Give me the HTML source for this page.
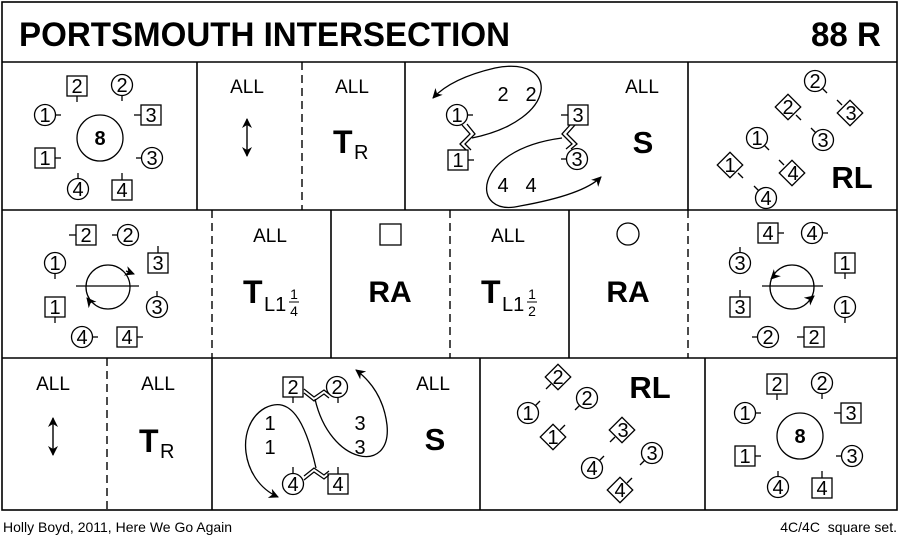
<!DOCTYPE html>
<html><head><meta charset="utf-8"><style>
html,body{margin:0;padding:0;background:#fff}
svg{display:block}
text{font-family:"Liberation Sans",Arial,sans-serif;fill:#000}
</style></head><body>
<svg width="900" height="542" viewBox="0 0 900 542" xmlns="http://www.w3.org/2000/svg">
<defs>
<marker id="ah" viewBox="0 0 10 10" refX="9" refY="5" markerWidth="10" markerHeight="10" orient="auto-start-reverse" markerUnits="userSpaceOnUse"><path d="M0,0 L10,5 L0,10 L3,5 Z" fill="#000"/></marker>
</defs>
<g fill="none" stroke="#000" stroke-width="1.6">
<rect x="2" y="2" width="895" height="508"/>
<line x1="2" y1="62" x2="897" y2="62"/>
<line x1="2" y1="210" x2="897" y2="210"/>
<line x1="2" y1="358" x2="897" y2="358"/>
<line x1="197" y1="62" x2="197" y2="210"/>
<line x1="405" y1="62" x2="405" y2="210"/>
<line x1="688" y1="62" x2="688" y2="210"/>
<line x1="331" y1="210" x2="331" y2="358"/>
<line x1="569" y1="210" x2="569" y2="358"/>
<line x1="212" y1="358" x2="212" y2="510"/>
<line x1="480" y1="358" x2="480" y2="510"/>
<line x1="705" y1="358" x2="705" y2="510"/>
</g>
<g fill="none" stroke="#000" stroke-width="1.4" stroke-dasharray="8,5">
<line x1="302" y1="62" x2="302" y2="210"/>
<line x1="212" y1="210" x2="212" y2="358"/>
<line x1="450" y1="210" x2="450" y2="358"/>
<line x1="688" y1="210" x2="688" y2="358"/>
<line x1="107" y1="358" x2="107" y2="510"/>
</g>
<text x="19" y="46" font-size="34" font-weight="bold" textLength="491" lengthAdjust="spacingAndGlyphs">PORTSMOUTH INTERSECTION</text>
<text x="881" y="46" font-size="34" font-weight="bold" text-anchor="end" textLength="70" lengthAdjust="spacingAndGlyphs">88 R</text>

<g fill="none" stroke="#000" stroke-width="1.3">
<circle cx="100" cy="138" r="23"/>
<rect x="67" y="76" width="20" height="20"/><line x1="77" y1="96" x2="77" y2="102"/>
<circle cx="122" cy="85" r="10.5"/><line x1="122" y1="96" x2="122" y2="101"/>
<circle cx="45" cy="115" r="10.5"/><line x1="56" y1="115" x2="61" y2="115"/>
<rect x="141" y="105" width="20" height="20"/><line x1="134" y1="115" x2="141" y2="115"/>
<rect x="35" y="148" width="20" height="20"/><line x1="55" y1="158" x2="61" y2="158"/>
<circle cx="152" cy="158" r="10.5"/><line x1="136" y1="158" x2="141" y2="158"/>
<circle cx="78" cy="189" r="10.5"/><line x1="78" y1="173" x2="78" y2="178"/>
<rect x="112" y="180" width="20" height="20"/><line x1="122" y1="173" x2="122" y2="180"/>
</g>
<g font-size="20" text-anchor="middle">
<text x="100" y="145" font-weight="bold">8</text>
<text x="77" y="93">2</text><text x="122" y="92">2</text><text x="45" y="122">1</text><text x="151" y="122">3</text>
<text x="45" y="165">1</text><text x="152" y="165">3</text><text x="78" y="196">4</text><text x="122" y="197">4</text>
</g>
<g transform="translate(700,298)">
<g fill="none" stroke="#000" stroke-width="1.3">
<circle cx="100" cy="138" r="23"/>
<rect x="67" y="76" width="20" height="20"/><line x1="77" y1="96" x2="77" y2="102"/>
<circle cx="122" cy="85" r="10.5"/><line x1="122" y1="96" x2="122" y2="101"/>
<circle cx="45" cy="115" r="10.5"/><line x1="56" y1="115" x2="61" y2="115"/>
<rect x="141" y="105" width="20" height="20"/><line x1="134" y1="115" x2="141" y2="115"/>
<rect x="35" y="148" width="20" height="20"/><line x1="55" y1="158" x2="61" y2="158"/>
<circle cx="152" cy="158" r="10.5"/><line x1="136" y1="158" x2="141" y2="158"/>
<circle cx="78" cy="189" r="10.5"/><line x1="78" y1="173" x2="78" y2="178"/>
<rect x="112" y="180" width="20" height="20"/><line x1="122" y1="173" x2="122" y2="180"/>
</g>
<g font-size="20" text-anchor="middle">
<text x="100" y="145" font-weight="bold">8</text>
<text x="77" y="93">2</text><text x="122" y="92">2</text><text x="45" y="122">1</text><text x="151" y="122">3</text>
<text x="45" y="165">1</text><text x="152" y="165">3</text><text x="78" y="196">4</text><text x="122" y="197">4</text>
</g>
</g>

<g font-size="19" text-anchor="middle">
<text x="247" y="93">ALL</text><text x="352" y="93">ALL</text>
<text x="53" y="390">ALL</text><text x="158" y="390">ALL</text>
<text x="642" y="93">ALL</text>
<text x="270" y="242">ALL</text><text x="508" y="242">ALL</text>
<text x="433" y="390">ALL</text>
</g>
<g stroke="#000" stroke-width="1.4" fill="none">
<line x1="247" y1="119" x2="247" y2="156" marker-start="url(#ah)" marker-end="url(#ah)"/>
<line x1="53" y1="418" x2="53" y2="455" marker-start="url(#ah)" marker-end="url(#ah)"/>
</g>
<text x="333" y="153" font-size="32" font-weight="bold">T</text><text x="354" y="159" font-size="20">R</text>
<text x="139" y="452" font-size="32" font-weight="bold">T</text><text x="160" y="458" font-size="20">R</text>
<text x="643" y="153" font-size="31" font-weight="bold" text-anchor="middle">S</text>
<text x="435" y="450" font-size="31" font-weight="bold" text-anchor="middle">S</text>

<text x="243" y="303" font-size="32" font-weight="bold">T</text><text x="264" y="311" font-size="20">L1</text>
<text x="294" y="299" font-size="14" text-anchor="middle">1</text><line x1="289" y1="302" x2="299" y2="302" stroke="#000"/><text x="294" y="316" font-size="14" text-anchor="middle">4</text>
<text x="481" y="303" font-size="32" font-weight="bold">T</text><text x="502" y="311" font-size="20">L1</text>
<text x="532" y="299" font-size="14" text-anchor="middle">1</text><line x1="527" y1="302" x2="537" y2="302" stroke="#000"/><text x="532" y="316" font-size="14" text-anchor="middle">2</text>
<rect x="380" y="224" width="21" height="21" fill="none" stroke="#000" stroke-width="1.3"/>
<circle cx="628" cy="234" r="11" fill="none" stroke="#000" stroke-width="1.3"/>
<text x="390" y="302" font-size="30" font-weight="bold" text-anchor="middle">RA</text>
<text x="628" y="302" font-size="30" font-weight="bold" text-anchor="middle">RA</text>
<text x="852" y="188" font-size="31" font-weight="bold" text-anchor="middle">RL</text>
<text x="650" y="398" font-size="31" font-weight="bold" text-anchor="middle">RL</text>

<g fill="none" stroke="#000" stroke-width="1.3">
<circle cx="457" cy="115" r="10.5"/><line x1="468" y1="115" x2="473" y2="115"/>
<rect x="448" y="150" width="20" height="20"/><line x1="468" y1="160" x2="474" y2="160"/>
<rect x="568" y="105" width="20" height="20"/><line x1="561" y1="115" x2="568" y2="115"/>
<circle cx="577" cy="159" r="10.5"/><line x1="561" y1="159" x2="566" y2="159"/>
<polyline points="462,125 470,134 460,144 466,150"/><polyline points="467,124 475,134 465,144 471,150"/>
<polyline points="570,125 562,134 572,144 566,149"/><polyline points="575,125 567,134 577,144 571,149"/>
<path d="M472 138 C 560 120, 560 55, 495 68 C 465 75, 445 85, 433 98" marker-end="url(#ah)"/>
<path d="M562 138 C 470 150, 470 218, 520 206 C 565 198, 590 188, 601 177" marker-end="url(#ah)"/>
</g>
<g font-size="20" text-anchor="middle">
<text x="457" y="122">1</text><text x="458" y="167">1</text><text x="578" y="122">3</text><text x="577" y="166">3</text>
<text x="503" y="101">2</text><text x="531" y="101">2</text><text x="503" y="192">4</text><text x="531" y="192">4</text>
</g>

<g fill="none" stroke="#000" stroke-width="1.3">
<circle cx="815" cy="81" r="10.5"/><line x1="822" y1="88" x2="827" y2="93"/>
<rect x="779" y="98" width="18" height="18" transform="rotate(45 788 107)"/><line x1="796" y1="115" x2="801" y2="120"/>
<rect x="841" y="104" width="18" height="18" transform="rotate(45 850 113)"/><line x1="842" y1="105" x2="837" y2="100"/>
<circle cx="757" cy="138" r="10.5"/><line x1="764" y1="145" x2="769" y2="150"/>
<circle cx="823" cy="140" r="10.5"/><line x1="816" y1="133" x2="811" y2="128"/>
<rect x="721" y="156" width="18" height="18" transform="rotate(45 730 165)"/><line x1="738" y1="173" x2="743" y2="178"/>
<rect x="783" y="164" width="18" height="18" transform="rotate(45 792 173)"/><line x1="784" y1="165" x2="779" y2="160"/>
<circle cx="766" cy="198" r="10.5"/><line x1="759" y1="191" x2="754" y2="186"/>
</g>
<g font-size="20" text-anchor="middle">
<text x="815" y="88">2</text><text x="788" y="114">2</text><text x="851" y="120">3</text><text x="757" y="145">1</text>
<text x="823" y="147">3</text><text x="730" y="172">1</text><text x="793" y="180">4</text><text x="766" y="205">4</text>
</g>

<g fill="none" stroke="#000" stroke-width="1.3">
<rect x="76" y="225" width="20" height="20"/><line x1="69" y1="235" x2="76" y2="235"/>
<circle cx="128" cy="235" r="10.5"/><line x1="112" y1="235" x2="117" y2="235"/>
<circle cx="55" cy="263" r="10.5"/><line x1="55" y1="274" x2="55" y2="279"/>
<rect x="148" y="253" width="20" height="20"/><line x1="158" y1="246" x2="158" y2="253"/>
<rect x="45" y="297" width="20" height="20"/><line x1="55" y1="317" x2="55" y2="323"/>
<circle cx="157" cy="307" r="10.5"/><line x1="157" y1="291" x2="157" y2="296"/>
<circle cx="82" cy="337" r="10.5"/><line x1="93" y1="337" x2="98" y2="337"/>
<rect x="117" y="327" width="20" height="20"/><line x1="137" y1="337" x2="143" y2="337"/>
<circle cx="108" cy="287" r="22"/><line x1="76" y1="286" x2="139" y2="286"/>
<path d="M126 271 L134 274" marker-end="url(#ah)"/><path d="M91 303 L87 298" marker-end="url(#ah)"/>
</g>
<g font-size="20" text-anchor="middle">
<text x="86" y="242">2</text><text x="128" y="242">2</text><text x="55" y="270">1</text><text x="158" y="270">3</text>
<text x="55" y="314">1</text><text x="157" y="314">3</text><text x="82" y="344">4</text><text x="127" y="344">4</text>
</g>

<g fill="none" stroke="#000" stroke-width="1.3">
<rect x="758" y="223" width="20" height="20"/><line x1="778" y1="233" x2="784" y2="233"/>
<circle cx="812" cy="233" r="10.5"/><line x1="823" y1="233" x2="828" y2="233"/>
<circle cx="740" cy="263" r="10.5"/><line x1="740" y1="247" x2="740" y2="252"/>
<rect x="835" y="253" width="20" height="20"/><line x1="845" y1="273" x2="845" y2="279"/>
<rect x="730" y="297" width="20" height="20"/><line x1="740" y1="290" x2="740" y2="297"/>
<circle cx="845" cy="307" r="10.5"/><line x1="845" y1="318" x2="845" y2="323"/>
<circle cx="768" cy="337" r="10.5"/><line x1="752" y1="337" x2="757" y2="337"/>
<rect x="804" y="327" width="20" height="20"/><line x1="797" y1="337" x2="804" y2="337"/>
<circle cx="792" cy="287" r="22"/><line x1="762" y1="286" x2="823" y2="286"/>
<path d="M775 275 L771 279" marker-end="url(#ah)"/><path d="M809 300 L814 296" marker-end="url(#ah)"/>
</g>
<g font-size="20" text-anchor="middle">
<text x="768" y="240">4</text><text x="812" y="240">4</text><text x="740" y="270">3</text><text x="845" y="270">1</text>
<text x="740" y="314">3</text><text x="845" y="314">1</text><text x="768" y="344">2</text><text x="814" y="344">2</text>
</g>

<g fill="none" stroke="#000" stroke-width="1.3">
<rect x="283" y="377" width="20" height="20"/><line x1="293" y1="397" x2="293" y2="403"/>
<circle cx="337" cy="387" r="10.5"/><line x1="338" y1="398" x2="338" y2="403"/>
<circle cx="293" cy="484" r="10.5"/><line x1="293" y1="467" x2="293" y2="473"/>
<rect x="328" y="474" width="20" height="20"/><line x1="338" y1="467" x2="338" y2="474"/>
<polyline points="304,389 314,397 324,390 329,394"/><polyline points="304,393 314,401 324,394 329,398"/>
<polyline points="304,480 314,472 324,479 329,475"/><polyline points="304,476 314,468 324,475 329,471"/>
<path d="M315 399 C 330 465, 392 475, 387 425 C 384 400, 372 382, 356 370" marker-end="url(#ah)"/>
<path d="M316 468 C 305 420, 290 395, 265 408 C 235 425, 240 480, 278 497" marker-end="url(#ah)"/>
</g>
<g font-size="20" text-anchor="middle">
<text x="293" y="394">2</text><text x="337" y="394">2</text><text x="293" y="491">4</text><text x="338" y="491">4</text>
<text x="270" y="430">1</text><text x="270" y="454">1</text><text x="360" y="430">3</text><text x="360" y="454">3</text>
</g>

<g fill="none" stroke="#000" stroke-width="1.3">
<rect x="549" y="368" width="18" height="18" transform="rotate(45 558 377)"/><line x1="551" y1="384" x2="546" y2="389"/>
<circle cx="528" cy="413" r="10.5"/><line x1="535" y1="406" x2="540" y2="401"/>
<circle cx="587" cy="398" r="10.5"/><line x1="580" y1="405" x2="575" y2="410"/>
<rect x="544" y="428" width="18" height="18" transform="rotate(45 553 437)"/><line x1="560" y1="430" x2="565" y2="425"/>
<rect x="613" y="421" width="18" height="18" transform="rotate(45 622 430)"/><line x1="615" y1="437" x2="610" y2="442"/>
<circle cx="592" cy="468" r="10.5"/><line x1="599" y1="461" x2="604" y2="456"/>
<circle cx="652" cy="453" r="10.5"/><line x1="645" y1="460" x2="640" y2="465"/>
<rect x="611" y="481" width="18" height="18" transform="rotate(45 620 490)"/><line x1="627" y1="483" x2="632" y2="478"/>
</g>
<g font-size="20" text-anchor="middle">
<text x="558" y="384">2</text><text x="528" y="420">1</text><text x="587" y="405">2</text><text x="553" y="444">1</text>
<text x="623" y="437">3</text><text x="592" y="475">4</text><text x="652" y="460">3</text><text x="620" y="497">4</text>
</g>

<text x="3" y="532" font-size="14">Holly Boyd, 2011, Here We Go Again</text>
<text x="897" y="532" font-size="14" text-anchor="end" xml:space="preserve">4C/4C  square set.</text>
</svg>
</body></html>
